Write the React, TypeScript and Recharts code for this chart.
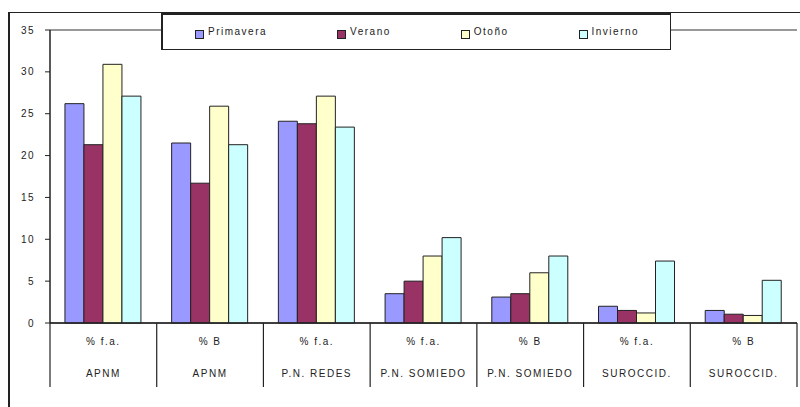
import React from "react";
import { BarChart, Bar, XAxis, YAxis, CartesianGrid, Legend } from "recharts";

const categories = ["APNM", "APNM", "P.N. REDES", "P.N. SOMIEDO", "P.N. SOMIEDO", "SUROCCID.", "SUROCCID."];
const measures = ["% f.a.", "% B", "% f.a.", "% f.a.", "% B", "% f.a.", "% B"];
const primavera = [26.2, 21.5, 24.1, 3.5, 3.1, 2.0, 1.5];
const verano = [21.3, 16.7, 23.8, 5.0, 3.5, 1.5, 1.05];
const otono = [30.9, 25.9, 27.1, 8.0, 6.0, 1.2, 0.9];
const invierno = [27.1, 21.3, 23.4, 10.2, 8.0, 7.4, 5.1];
const yTicks = [0, 5, 10, 15, 20, 25, 30, 35];

const seriesNames = ["Primavera", "Verano", "Otoño", "Invierno"];
const seriesKeys = ["primavera", "verano", "otono", "invierno"];
const seriesColors = ["#9999ff", "#993366", "#ffffcc", "#ccffff"];

const data = categories.map((c, i) => ({
  id: i,
  primavera: primavera[i],
  verano: verano[i],
  otono: otono[i],
  invierno: invierno[i],
}));

const ink = "#222";
const font = "'Liberation Sans', Arial, sans-serif";

const CategoryTick = (props: any) => {
  const { x, y, payload, width, visibleTicksCount } = props;
  const i = payload.index;
  const half =
    typeof payload.offset === "number" && payload.offset > 0
      ? payload.offset
      : width / visibleTicksCount / 2;
  return (
    <g>
      {i === 0 && (
        <line x1={x - half} x2={x - half} y1={y} y2={y + 64} stroke={ink} strokeWidth={1.2} />
      )}
      <line x1={x + half} x2={x + half} y1={y} y2={y + 64} stroke={ink} strokeWidth={1.2} />
      <text x={x} y={y + 22} textAnchor="middle" fontSize={10} letterSpacing={1.5} fill={ink} fontFamily={font}>
        {measures[i]}
      </text>
      <text x={x} y={y + 54} textAnchor="middle" fontSize={10} letterSpacing={1.5} fill={ink} fontFamily={font}>
        {categories[i]}
      </text>
    </g>
  );
};

const LegendBox = () => (
  <div
    style={{
      display: "flex",
      gap: 70,
      paddingLeft: 32,
      paddingTop: 12,
      fontFamily: font,
      fontSize: 10,
      letterSpacing: 1.5,
      color: ink,
    }}
  >
    {seriesNames.map((n, i) => (
      <div key={n} style={{ display: "flex", alignItems: "flex-start" }}>
        <span
          style={{
            display: "inline-block",
            width: 7,
            height: 7,
            marginTop: 3,
            marginRight: 4,
            border: `1px solid ${ink}`,
            background: seriesColors[i],
          }}
        />
        <span style={{ lineHeight: "10px" }}>{n}</span>
      </div>
    ))}
  </div>
);

export default function App() {
  return (
    <div style={{ position: "relative", width: 800, height: 407, background: "#fff", overflow: "hidden" }}>
      <style>{"body{margin:0}"}</style>
      <div
        style={{
          position: "absolute",
          left: 8,
          top: 12,
          width: 820,
          height: 420,
          borderLeft: `2px solid ${ink}`,
          borderTop: `1.5px solid ${ink}`,
        }}
      />
      <BarChart
        width={800}
        height={407}
        data={data}
        margin={{ top: 30, right: 3, bottom: 20, left: 8 }}
        barCategoryGap="14%"
        barGap={0}
        style={{ position: "absolute", left: 0, top: 0 }}
      >
        <CartesianGrid vertical={false} stroke="#333" strokeWidth={1.2} />
        <XAxis
          dataKey="id"
          height={64}
          tickLine={false}
          tickSize={0}
          tickMargin={0}
          axisLine={{ stroke: ink, strokeWidth: 1.5 }}
          tick={<CategoryTick />}
          interval={0}
        />
        <YAxis
          yAxisId="left"
          domain={[0, 35]}
          ticks={yTicks}
          width={42}
          tickSize={5}
          tickMargin={10}
          axisLine={{ stroke: ink, strokeWidth: 1.5 }}
          tickLine={{ stroke: ink }}
          tick={{ fontSize: 10, fill: ink, fontFamily: font, letterSpacing: 1.5 }}
        />
        <YAxis
          yAxisId="right"
          orientation="right"
          domain={[0, 35]}
          width={0}
          tick={false}
          tickLine={false}
          axisLine={{ stroke: ink, strokeWidth: 1.5 }}
        />
        <Legend
          layout="horizontal"
          verticalAlign="middle"
          align="center"
          content={<LegendBox />}
          wrapperStyle={{
            position: "absolute",
            left: 161,
            top: 13,
            width: 510,
            height: 37,
            boxSizing: "border-box",
            background: "#fff",
            border: `1.5px solid ${ink}`,
            borderTopWidth: 2.5,
            borderLeftWidth: 2,
          }}
        />
        {seriesKeys.map((k, i) => (
          <Bar
            key={k}
            yAxisId="left"
            dataKey={k}
            name={seriesNames[i]}
            fill={seriesColors[i]}
            stroke={ink}
            strokeWidth={1}
            isAnimationActive={false}
          />
        ))}
      </BarChart>
    </div>
  );
}
